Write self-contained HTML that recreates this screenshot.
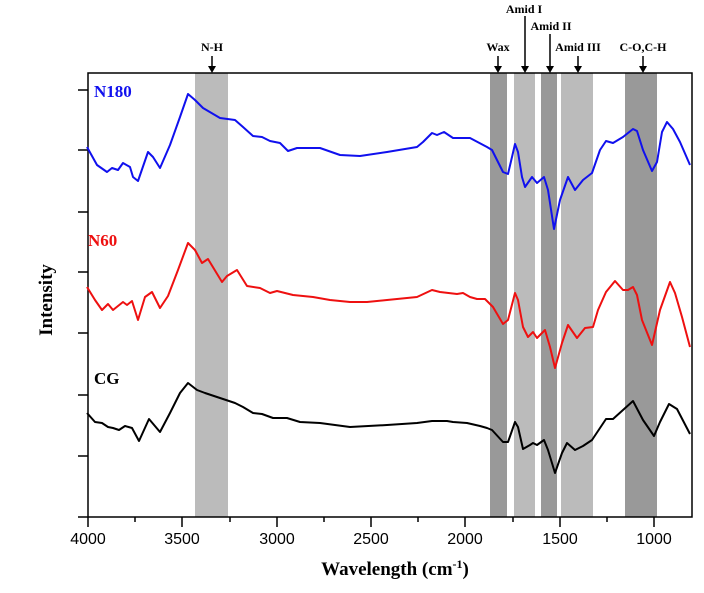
<!DOCTYPE html>
<html><head><meta charset="utf-8"><style>body{margin:0;background:#fff}svg{display:block}</style></head><body>
<svg width="704" height="593" viewBox="0 0 704 593" xmlns="http://www.w3.org/2000/svg">
<rect width="704" height="593" fill="#fff"/>
<rect x="195" y="73" width="33" height="444" fill="#bbb"/>
<rect x="490" y="73" width="17" height="444" fill="#999"/>
<rect x="514" y="73" width="21" height="444" fill="#bbb"/>
<rect x="541" y="73" width="16" height="444" fill="#999"/>
<rect x="561" y="73" width="32" height="444" fill="#bbb"/>
<rect x="625" y="73" width="32" height="444" fill="#999"/>
<rect x="88" y="73" width="604" height="444" fill="none" stroke="#000" stroke-width="1.5"/>
<g stroke="#000" stroke-width="1.5">
<line x1="78" y1="90" x2="88" y2="90"/><line x1="78" y1="150" x2="88" y2="150"/><line x1="78" y1="212" x2="88" y2="212"/><line x1="78" y1="272" x2="88" y2="272"/><line x1="78" y1="333" x2="88" y2="333"/><line x1="78" y1="395" x2="88" y2="395"/><line x1="78" y1="456" x2="88" y2="456"/><line x1="78" y1="517" x2="88" y2="517"/>
<line x1="88" y1="517" x2="88" y2="527"/><line x1="182" y1="517" x2="182" y2="527"/><line x1="277" y1="517" x2="277" y2="527"/><line x1="371" y1="517" x2="371" y2="527"/><line x1="465" y1="517" x2="465" y2="527"/><line x1="560" y1="517" x2="560" y2="527"/><line x1="654" y1="517" x2="654" y2="527"/>
<line x1="135" y1="517" x2="135" y2="522"/><line x1="230" y1="517" x2="230" y2="522"/><line x1="324" y1="517" x2="324" y2="522"/><line x1="418" y1="517" x2="418" y2="522"/><line x1="513" y1="517" x2="513" y2="522"/><line x1="607" y1="517" x2="607" y2="522"/>
</g>
<g font-family="Liberation Sans, sans-serif" font-size="16" text-anchor="middle" fill="#000">
<text x="88" y="544">4000</text><text x="182" y="544">3500</text><text x="277" y="544">3000</text><text x="371" y="544">2500</text><text x="465" y="544">2000</text><text x="560" y="544">1500</text><text x="654" y="544">1000</text>
</g>
<text x="395" y="575" font-family="Liberation Serif, serif" font-weight="bold" font-size="19" text-anchor="middle">Wavelength (cm<tspan font-size="12" dy="-7">-1</tspan><tspan dy="7">)</tspan></text>
<text transform="translate(52,300) rotate(-90)" font-family="Liberation Serif, serif" font-weight="bold" font-size="19" text-anchor="middle">Intensity</text>
<g font-family="Liberation Serif, serif" font-weight="bold" font-size="12" text-anchor="middle" fill="#000">
<text x="212" y="51">N-H</text><text x="498" y="51">Wax</text><text x="524" y="13">Amid I</text><text x="551" y="30">Amid II</text><text x="578" y="51">Amid III</text><text x="643" y="51">C-O,C-H</text>
</g>
<g stroke="#000" stroke-width="1.5">
<line x1="212" y1="56" x2="212" y2="69"/><line x1="498" y1="56" x2="498" y2="69"/><line x1="525" y1="16" x2="525" y2="69"/><line x1="550" y1="34" x2="550" y2="69"/><line x1="578" y1="56" x2="578" y2="69"/><line x1="643" y1="56" x2="643" y2="69"/>
</g>
<g fill="#000">
<path d="M208,66 L216,66 L212,73Z"/><path d="M494,66 L502,66 L498,73Z"/><path d="M521,66 L529,66 L525,73Z"/><path d="M546,66 L554,66 L550,73Z"/><path d="M574,66 L582,66 L578,73Z"/><path d="M639,66 L647,66 L643,73Z"/>
</g>
<g font-family="Liberation Serif, serif" font-weight="bold" font-size="17">
<text x="94" y="97" fill="#1010ee">N180</text><text x="88" y="246" fill="#ee1010">N60</text><text x="94" y="384" fill="#000">CG</text>
</g>
<g fill="none" stroke-width="2" stroke-linejoin="round">
<polyline stroke="#000" points="87,413 95,422 102,423 108,427 113,428 119,430 125,426 132,428 139,441 149,419 160,432 170,413 180,393 188,383 197,390 205,393 220,398 235,403 243,407 253,413 262,414 273,418 287,418 300,422 320,423 350,427 387,425 417,423 432,421 447,421 453,422 467,423 480,426 487,428 492,430 503,442 508,442 515,422 518,427 523,449 530,445 533,443 537,445 544,440 548,450 555,473 562,453 567,443 575,450 583,446 592,440 600,428 606,419 613,419 623,410 633,401 643,420 654,436 660,422 669,404 677,409 690,434"/>
<polyline stroke="#ee1010" points="87,287 95,300 102,310 108,304 113,310 123,302 127,305 132,301 138,320 145,297 152,292 160,308 168,296 178,270 188,243 195,250 202,263 208,259 222,282 227,276 237,270 247,286 260,288 270,293 277,291 293,295 313,297 330,300 350,302 367,302 387,300 417,297 432,290 440,292 457,294 463,293 470,297 477,299 485,299 493,307 503,324 508,320 515,293 518,300 523,327 528,337 533,332 537,338 545,330 550,347 555,368 562,343 568,325 577,338 585,328 593,327 598,310 606,292 615,281 623,290 628,290 633,287 637,295 642,320 652,345 660,310 670,282 675,293 682,317 690,347"/>
<polyline stroke="#1010ee" points="87,147 97,165 107,172 112,168 118,170 123,163 130,167 133,177 138,181 148,152 153,157 160,168 170,145 180,117 188,94 195,100 203,108 220,118 235,120 243,127 253,136 262,137 270,141 280,143 288,151 297,148 313,148 320,148 340,155 360,156 387,152 417,147 423,142 432,133 437,135 444,132 453,138 470,138 487,147 492,150 497,160 503,172 508,174 512,157 515,144 518,152 522,177 525,187 532,177 537,183 544,177 548,190 554,229 560,200 568,177 575,190 583,180 592,173 600,150 606,141 613,143 623,137 633,129 637,131 643,150 652,171 657,162 662,132 667,122 673,129 680,142 690,165"/>
</g>
</svg>
</body></html>
